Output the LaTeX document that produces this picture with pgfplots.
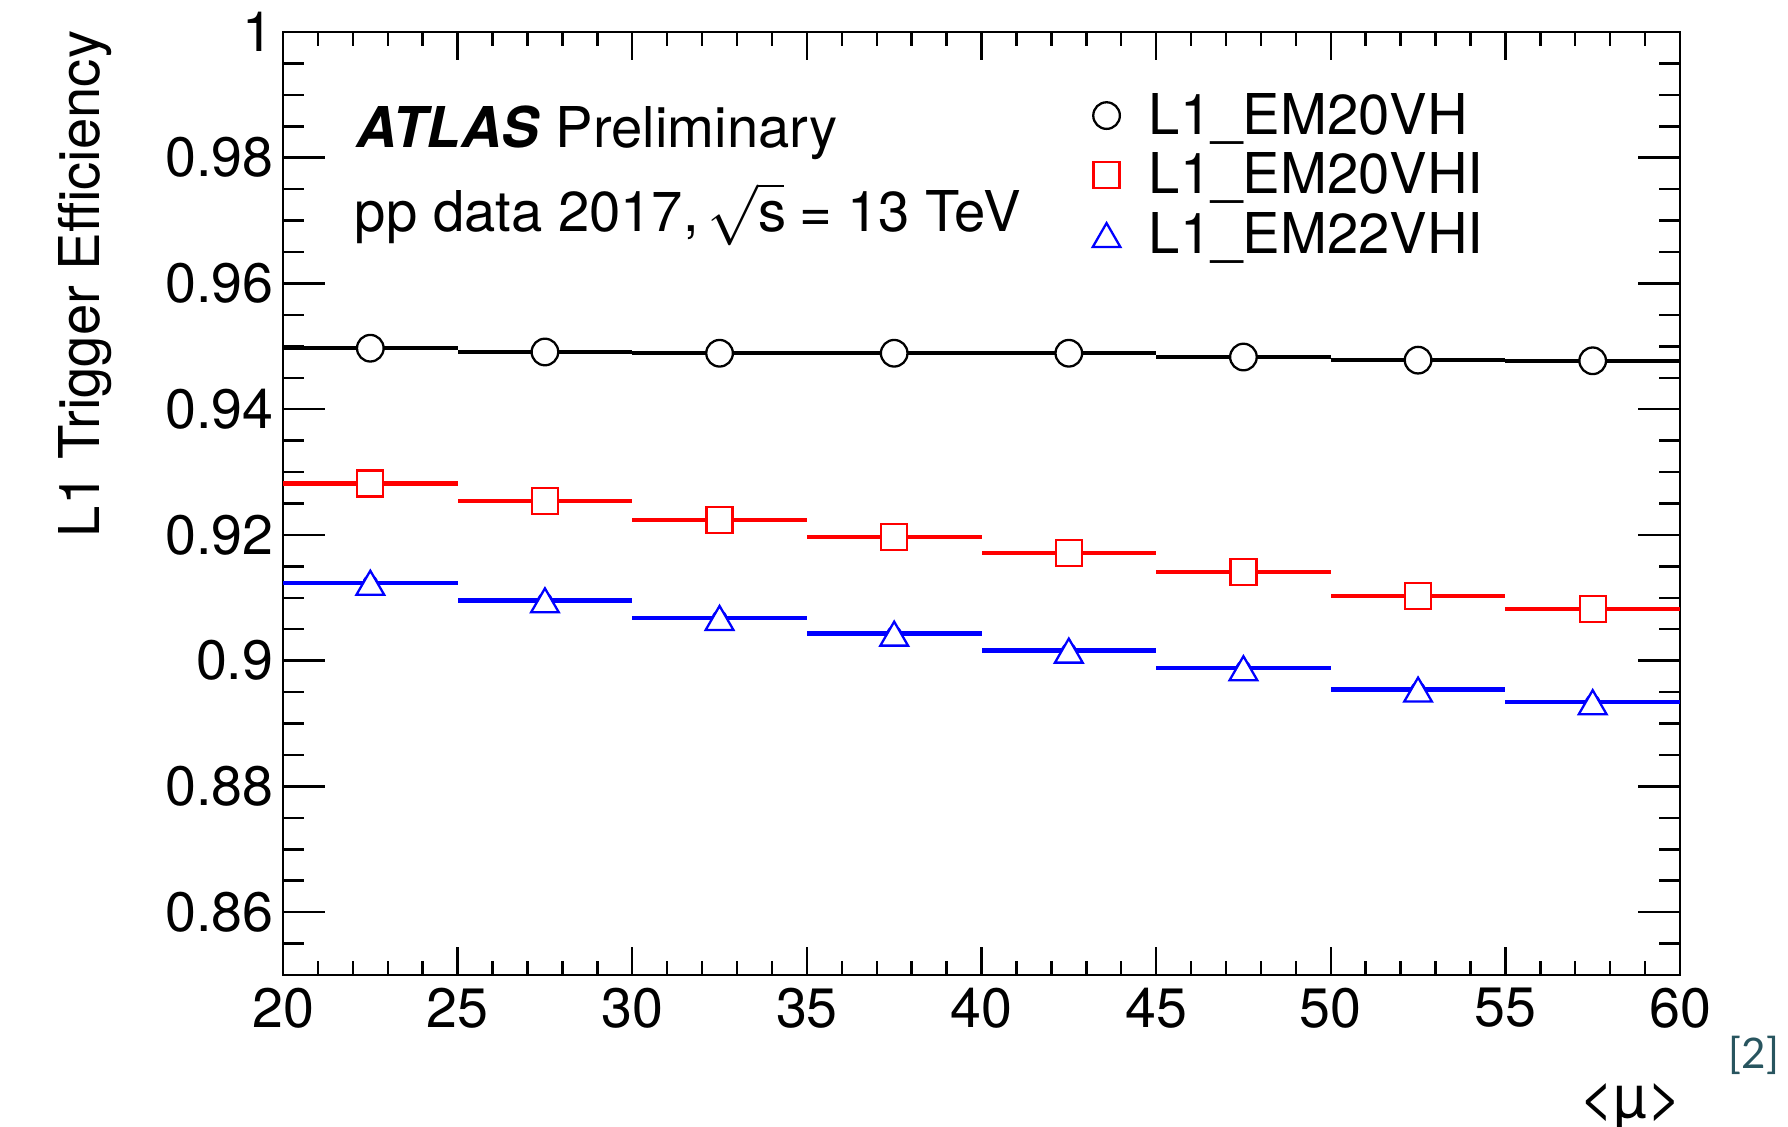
\documentclass[border=0pt]{standalone}
\usepackage{fontspec}
\setmainfont{TeX Gyre Heros}
\newfontfamily\reffont{Lato}
\usepackage{pgfplots}
\pgfplotsset{compat=1.18}
\usepackage{pgfplotstable}
\definecolor{refteal}{RGB}{40,85,95}

\pgfplotstableread{
x y
22.5 0.9497
27.5 0.9491
32.5 0.9489
37.5 0.9489
42.5 0.9489
47.5 0.9483
52.5 0.9478
57.5 0.9477
}\emA
\pgfplotstableread{
x y
22.5 0.9282
27.5 0.9254
32.5 0.9224
37.5 0.9197
42.5 0.9171
47.5 0.9141
52.5 0.9103
57.5 0.9082
}\emB
\pgfplotstableread{
x y
22.5 0.9124
27.5 0.9096
32.5 0.9068
37.5 0.9043
42.5 0.9016
47.5 0.8988
52.5 0.8954
57.5 0.8934
}\emC

\begin{document}
\begin{tikzpicture}
\useasboundingbox (-28.3mm,-15.1mm) rectangle (150.5mm,97.5mm);
\begin{axis}[
  at={(0,0)}, anchor=south west,
  scale only axis, width=139.7mm, height=94.3mm,
  xmin=20, xmax=60, ymin=0.85, ymax=1,
  xtick={20,25,30,35,40,45,50,55,60},
  minor xtick={20,21,...,60},
  ytick={0.86,0.88,0.9,0.92,0.94,0.96,0.98,1},
  minor ytick={0.85,0.855,...,1.001},
  tick align=inside,
  axis line style={line width=0.8pt},
  xtick style={line width=0.7pt, black, /pgfplots/major tick length=2.8mm, /pgfplots/minor tick length=1.4mm},
  ytick style={line width=0.7pt, black, /pgfplots/major tick length=4.2mm, /pgfplots/minor tick length=2.1mm},
  /pgf/number format/assume math mode=true,
  tick label style={font=\fontsize{15.8pt}{18pt}\selectfont},
  yticklabel style={inner sep=0.9mm},
  xticklabel style={inner sep=1.2mm},
  yticklabel style={/pgf/number format/fixed},
  ylabel={L1 Trigger Efficiency},
  ylabel style={font=\fontsize{16pt}{18pt}\selectfont, at={(axis description cs:-0.131,1.002)}, anchor=base east, inner sep=0pt},
  xlabel={\fontsize{17pt}{18pt}\selectfont<µ>},
  xlabel style={font=\fontsize{16pt}{18pt}\selectfont, at={(axis description cs:1.002,0)}, anchor=north east, yshift=-10.8mm, inner sep=0pt},
  legend style={at={(axis description cs:0.5791,0.9353)}, anchor=north west, draw=none, fill=none, inner sep=0pt,
    font=\fontsize{16pt}{18pt}\selectfont,
    nodes={inner sep=0pt, text height=11.5pt, text depth=5.5pt},
    row sep=0pt,
    /tikz/every odd column/.append style={column sep=2.85mm}},
  legend cell align=left,
  legend image post style={yshift=0.8mm},
]
\addplot[black, only marks, mark=none, forget plot,
  error bars/.cd, x dir=both, x fixed=2.5, error mark=none, error bar style={line width=1.2pt, black}] table {\emA};
\addplot[red, only marks, mark=none, forget plot,
  error bars/.cd, x dir=both, x fixed=2.5, error mark=none, error bar style={line width=1.25pt, red}] table {\emB};
\addplot[blue, only marks, mark=none, forget plot,
  error bars/.cd, x dir=both, x fixed=2.5, error mark=none, error bar style={line width=1.25pt, blue}] table {\emC};

\addplot[black, only marks, mark=*, mark size=1.33mm, mark options={draw=black, fill=white, line width=0.65pt}] table {\emA};
\addlegendentry{L1\_EM20VH}
\addplot[red, only marks, mark=square*, mark size=1.3mm, mark options={draw=red, fill=white, line width=0.65pt}] table {\emB};
\addlegendentry{L1\_EM20VHI}
\addplot[blue, only marks, mark=triangle*, mark size=1.6mm, mark options={draw=blue, fill=white, line width=0.65pt, yshift=-0.4mm}] table {\emC};
\addlegendentry{L1\_EM22VHI}

\node[anchor=base west, inner sep=0pt, font=\fontsize{16pt}{18pt}\selectfont] at (axis description cs:0.0523,0.877) {\textbf{\textit{ATLAS}} Preliminary};
\node[anchor=base west, inner sep=0pt, font=\fontsize{16pt}{18pt}\selectfont] at (axis description cs:0.051,0.788) {pp data 2017,\kern-0.12em\ $\sqrt{\mbox{s}\kern-0.05em}$ = 13 TeV};
\end{axis}
\node[text=refteal, font=\reffont\fontsize{12pt}{14pt}\selectfont, inner sep=0pt] at (147.1mm,-8mm) {[2]};
\end{tikzpicture}
\end{document}
